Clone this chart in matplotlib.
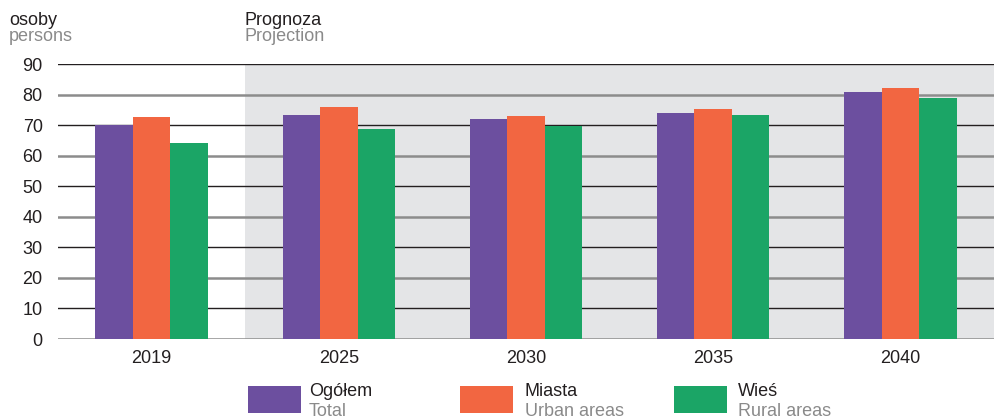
import matplotlib.pyplot as plt
from matplotlib.patches import Rectangle
import numpy as np

# -------------------------- Data --------------------------
years = ['2019', '2025', '2030', '2035', '2040']
total = [70.0, 73.3, 72.0, 74.0, 80.8]
urban = [72.6, 75.9, 73.0, 75.3, 82.1]
rural = [64.1, 68.7, 69.8, 73.3, 78.9]

series_pl = ['Ogółem', 'Miasta', 'Wieś']
series_en = ['Total', 'Urban areas', 'Rural areas']
colors = ['#6C4F9F', '#F26641', '#1BA566']
y_ticks = list(range(0, 91, 10))

# -------------------------- Plot --------------------------
plt.rcParams['font.family'] = ['Liberation Sans', 'DejaVu Sans']
dark_txt = '#231F20'
grey_txt = '#8a8a8a'
fs = 13

fig = plt.figure(figsize=(9.94, 4.19), dpi=100)
ax = fig.add_axes([58 / 994, 1 - 339 / 419, 936 / 994, 275 / 419])

x = np.arange(len(years))
w = 0.2

# projection shading
ax.axvspan(0.5, 4.5, color='#E4E5E7', zorder=0, lw=0)

# alternating gridlines: odd tens dark/thin, even tens grey/thicker
for v in y_ticks:
    if (v // 10) % 2 == 1:
        ax.axhline(v, color=dark_txt, lw=1.0, zorder=1)
    else:
        ax.axhline(v, color='#8C8C8C', lw=1.8, zorder=1)

for i, vals in enumerate([total, urban, rural]):
    ax.bar(x + (i - 1) * w, vals, width=w, color=colors[i], zorder=2, lw=0)

ax.set_xlim(-0.5, 4.5)
ax.set_ylim(0, 90)
ax.set_yticks(y_ticks)
ax.set_xticks(x)
ax.set_xticklabels(years)
ax.tick_params(axis='both', length=0, labelsize=fs, colors=dark_txt)
ax.tick_params(axis='y', pad=11)
ax.tick_params(axis='x', pad=8)
for s in ax.spines.values():
    s.set_visible(False)

# headers
def px_y(p):
    return 1 - p / 419

fig.text(9 / 994, px_y(25), 'osoby', fontsize=fs, color=dark_txt, va='baseline')
fig.text(9 / 994, px_y(41), 'persons', fontsize=fs, color=grey_txt, va='baseline')
fig.text(245 / 994, px_y(25), 'Prognoza', fontsize=fs, color=dark_txt, va='baseline')
fig.text(245 / 994, px_y(41), 'Projection', fontsize=fs, color=grey_txt, va='baseline')

# legend
patch_x = [248, 460, 674]
text_x = [309, 525, 738]
for px, tx, c, pl, en in zip(patch_x, text_x, colors, series_pl, series_en):
    fig.patches.append(Rectangle((px / 994, px_y(413)), 53 / 994, 27 / 419,
                                 transform=fig.transFigure, color=c, lw=0))
    fig.text(tx / 994, px_y(396), pl, fontsize=fs, color=dark_txt, va='baseline')
    fig.text(tx / 994, px_y(416), en, fontsize=fs, color=grey_txt, va='baseline')

fig.savefig('out.png', dpi=100)
